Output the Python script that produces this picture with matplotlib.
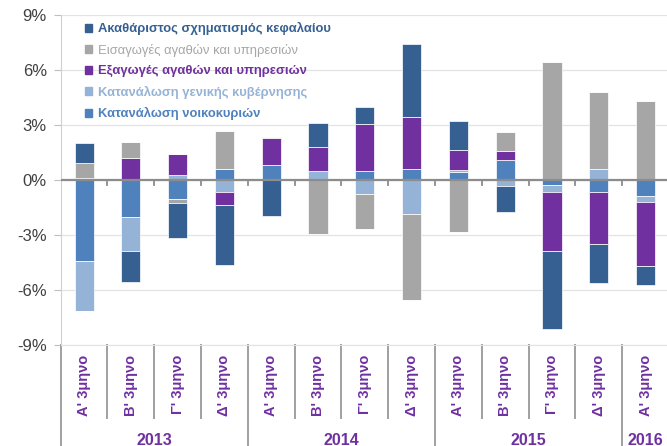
import numpy as np
import matplotlib
matplotlib.use('Agg')
import matplotlib.pyplot as plt
import matplotlib.transforms as mtransforms
from matplotlib.patches import Patch

plt.rcParams['font.family'] = ['Liberation Sans', 'DejaVu Sans']

# quarters (13 of them) and years
quarters = ["Α' 3μηνο", "Β' 3μηνο", "Γ' 3μηνο", "Δ' 3μηνο",
            "Α' 3μηνο", "Β' 3μηνο", "Γ' 3μηνο", "Δ' 3μηνο",
            "Α' 3μηνο", "Β' 3μηνο", "Γ' 3μηνο", "Δ' 3μηνο",
            "Α' 3μηνο"]
years = ['2013', '2014', '2015', '2016']
quarters_per_year = [4, 4, 4, 1]

# contributions to growth (%), stacking order = series order
household = [-4.42, -2.04, -1.05, 0.60, 0.82, 0.00, 0.51, 0.60, 0.44, 1.10, -0.26, -0.68, -0.87]
government = [-2.71, -1.83, 0.27, -0.67, 0.00, 0.49, -0.78, -1.84, 0.11, -0.33, -0.42, 0.58, -0.33]
exports = [0.13, 1.22, 1.13, -0.69, 1.47, 1.33, 2.56, 2.84, 1.09, 0.46, -3.18, -2.80, -3.49]
imports = [0.78, 0.83, -0.19, 2.05, 0.07, -2.93, -1.88, -4.69, -2.82, 1.07, 6.44, 4.20, 4.29]
gfcf = [1.12, -1.68, -1.94, -3.27, -1.95, 1.27, 0.91, 3.98, 1.55, -1.42, -4.29, -2.12, -1.02]

series = [
    ('Κατανάλωση νοικοκυριών', household, '#4F81BD'),
    ('Κατανάλωση γενικής κυβέρνησης', government, '#95B3D7'),
    ('Εξαγωγές αγαθών και υπηρεσιών', exports, '#7030A0'),
    ('Εισαγωγές αγαθών και υπηρεσιών', imports, '#A6A6A6'),
    ('Ακαθάριστος σχηματισμός κεφαλαίου', gfcf, '#366092'),
]

purple = '#7030A0'

fig = plt.figure(figsize=(6.67, 4.46), dpi=100)
ax = fig.add_axes([0.091, 0.2265, 0.912, 0.74])

x = np.arange(len(quarters))
pos_bottom = np.zeros(len(x))
neg_bottom = np.zeros(len(x))
for name, vals, col in series:
    v = np.array(vals)
    pos = np.where(v > 0, v, 0)
    neg = np.where(v < 0, v, 0)
    ax.bar(x, pos, 0.41, bottom=pos_bottom, color=col, edgecolor='white', linewidth=0.5, zorder=3)
    ax.bar(x, neg, 0.41, bottom=neg_bottom, color=col, edgecolor='white', linewidth=0.5, zorder=3)
    pos_bottom += pos
    neg_bottom += neg

ax.set_xlim(-0.5, len(x) - 0.5)
ax.set_ylim(-9, 9)
ax.set_yticks([-9, -6, -3, 0, 3, 6, 9])
ax.set_yticklabels(['-9%', '-6%', '-3%', '0%', '3%', '6%', '9%'])
ax.tick_params(axis='y', length=5, color='#BFBFBF', labelsize=12, labelcolor='#404040', pad=5)
ax.set_xticks([])
ax.grid(axis='y', color='#E3E3E3', linewidth=0.9, zorder=0)
for s in ['top', 'right']:
    ax.spines[s].set_visible(False)
ax.spines['left'].set_color('#D0D0D0')
ax.spines['bottom'].set_color('#E3E3E3')

# zero line with small ticks at category boundaries
ax.axhline(0, color='#8C8C8C', linewidth=1.6, zorder=4)
for b in np.arange(0.5, len(x) - 0.5, 1.0):
    ax.plot([b, b], [0, -0.28], color='#8C8C8C', linewidth=1.3, zorder=4)

# category axis below the plot
trans = mtransforms.blended_transform_factory(ax.transData, ax.transAxes)
for i, q in enumerate(quarters):
    ax.text(i, -0.03, q, rotation=90, ha='center', va='top', transform=trans,
            fontsize=10.5, fontweight='bold', color=purple)
start = 0
year_edges = [-0.5]
for yr, n in zip(years, quarters_per_year):
    ax.text(start + (n - 1) / 2, -0.288, yr, ha='center', va='center', transform=trans,
            fontsize=11.5, fontweight='bold', color=purple)
    start += n
    year_edges.append(start - 0.5)
for b in np.arange(-0.5, len(x) + 0.5, 1.0):
    if b in year_edges:
        y0 = -0.31
    else:
        y0 = -0.221
    ax.plot([b, b], [0, y0], color='#A0A0A0', linewidth=1.4, transform=trans, clip_on=False)

# legend
handles = [Patch(color=col) for _, _, col in series[::-1]]
labels = [name for name, _, _ in series[::-1]]
leg = ax.legend(handles, labels, loc='upper left', bbox_to_anchor=(0.02, 1.013), frameon=False,
                handlelength=0.6, handleheight=0.6, handletextpad=0.4, labelspacing=0.65,
                prop={'size': 9.4, 'weight': 'bold'})
for txt, (_, _, col) in zip(leg.get_texts(), series[::-1]):
    txt.set_color(col)
leg.get_texts()[1].set_fontweight('normal')

fig.savefig('out.png', dpi=100)
